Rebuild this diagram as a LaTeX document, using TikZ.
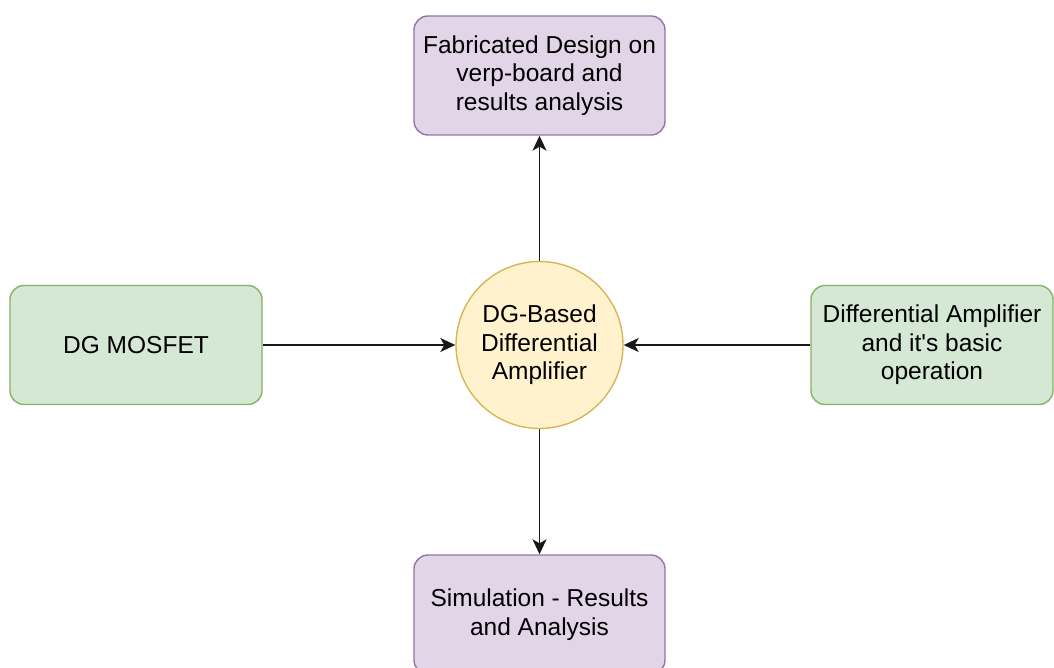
\documentclass[tikz,border=0pt]{standalone}
\usepackage{fontspec}
\setmainfont{Liberation Sans}
\usepackage{xcolor}
\usetikzlibrary{arrows.meta}

\definecolor{inputFill}{HTML}{D5E8D4}
\definecolor{inputLine}{HTML}{82B366}
\definecolor{resultFill}{HTML}{E1D5E7}
\definecolor{resultLine}{HTML}{9673A6}
\definecolor{coreFill}{HTML}{FFF2CC}
\definecolor{coreLine}{HTML}{D6B656}

\newcommand{\diagfont}{\fontsize{24.5}{28.5}\selectfont}

\begin{document}
\begin{tikzpicture}[
        x=1pt, y=-1pt,
        input/.style={rectangle, draw=inputLine, fill=inputFill, line width=1.4pt, minimum height=119pt, inner sep=0pt, text centered, font=\diagfont, rounded corners=14pt, align=center},
        result/.style={rectangle, draw=resultLine, fill=resultFill, line width=1.4pt, minimum width=251pt, minimum height=119pt, inner sep=0pt, text centered, font=\diagfont, rounded corners=14pt, align=center},
        core/.style={circle, draw=coreLine, fill=coreFill, line width=1.4pt, minimum size=167pt, inner sep=0pt, text centered, font=\diagfont, align=center},
        arrow/.style={-{Stealth[length=15pt, width=14pt, inset=4pt]}, line width=1.6pt, black!90}
    ]
        \useasboundingbox (0,0) rectangle (1054,668);

        % ========== CENTRE ==========
        \node[core] (amp) at (539.5,345) {DG-Based\\Differential\\Amplifier};

        % ========== INPUTS (Left / Right) ==========
        \node[input, minimum width=252pt] (mosfet) at (136,345) {DG MOSFET};
        \node[input, minimum width=242pt] (diffAmp) at (932,345) {Differential Amplifier\\and it\textquotesingle s basic\\operation};

        % ========== RESULTS (Top / Bottom) ==========
        \node[result] (fabricated) at (539.5,75.5) {Fabricated Design on\\verp-board and\\results analysis};
        \node[result] (simulation) at (539.5,614.5) {Simulation - Results\\and Analysis};

        % ========== ARROWS ==========
        \draw[arrow] (mosfet.east) -- (amp.west);
        \draw[arrow] (diffAmp.west) -- (amp.east);
        \draw[arrow] (amp.north) -- (fabricated.south);
        \draw[arrow] (amp.south) -- (simulation.north);

    \end{tikzpicture}
\end{document}
